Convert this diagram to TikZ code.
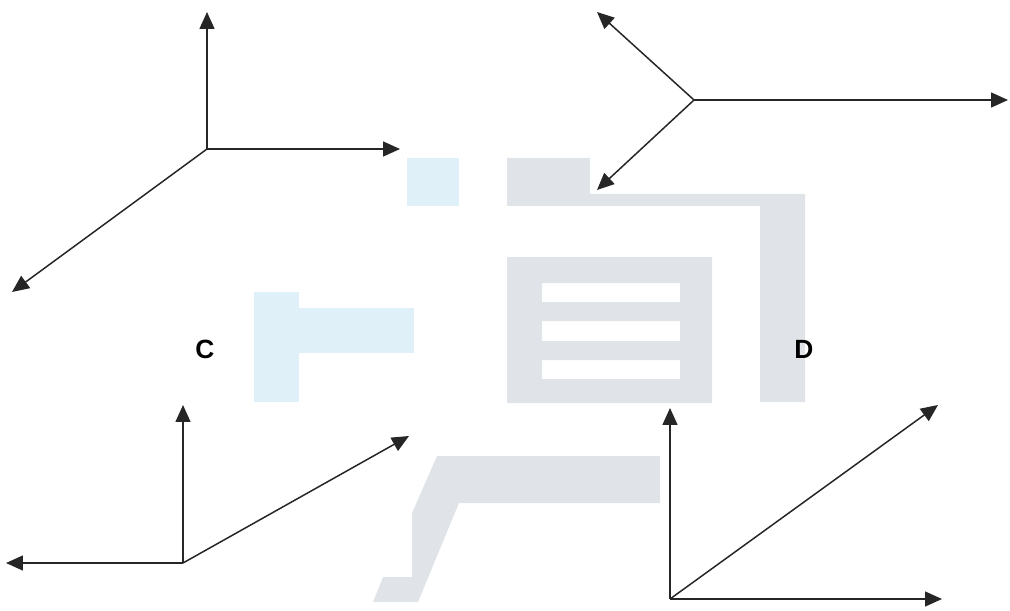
\documentclass[tikz,border=0pt]{standalone}
\usepackage{fontspec}
\setsansfont{Liberation Sans}
\usetikzlibrary{arrows.meta}
\definecolor{wmblue}{HTML}{E0F0F8}
\definecolor{wmgray}{HTML}{E0E4E8}
\tikzset{
  vec/.style={-{Triangle[length=0.34cm,width=0.3cm]},line width=0.85pt,draw=black!85},
  lbl/.style={font=\sffamily\bfseries\fontsize{15}{17}\selectfont,inner sep=0pt},
  mark/.style={fill=wmgray,draw=none}
}
\begin{document}
\begin{tikzpicture}[x=0.02cm,y=-0.02cm]
\useasboundingbox (0,0) rectangle (1010,611);
% watermark in the background
\fill[wmblue] (407,158) rectangle (459,206);
\fill[wmblue] (254,292) rectangle (299,402);
\fill[wmblue] (299,308) rectangle (414,353);
\fill[wmgray] (507,158) -- (590,158) -- (590,194) -- (805,194) -- (805,402) -- (760,402) -- (760,206) -- (507,206) -- cycle;
\fill[wmgray,even odd rule] (507,257) rectangle (712,403)
  (542,283) rectangle (680,302) (542,321) rectangle (680,341) (542,360) rectangle (680,379);
\fill[wmgray] (437,456) -- (660,456) -- (660,503) -- (459,503) -- (418,602) -- (373,602) -- (383,577) -- (412,577) -- (412,513) -- cycle;
% top left
\coordinate (Ao) at (207,149);
\coordinate (Au) at (207,12);
\coordinate (Ar) at (400,149);
\coordinate (Al) at (12,292);
\draw[vec] (Ao) -- (Au);
\draw[vec] (Ao) -- (Ar);
\draw[vec] (Ao) -- (Al);
% top right
\coordinate (Bo) at (694,100);
\coordinate (Br) at (1008,100);
\coordinate (Bu) at (597,12);
\coordinate (Bd) at (597,190);
\draw[vec] (Bo) -- (Br);
\draw[vec] (Bo) -- (Bu);
\draw[vec] (Bo) -- (Bd);
% labels
\node[lbl] (C) at (205,349) {C};
\node[lbl] (D) at (804,349) {D};
% bottom left
\coordinate (Co) at (183,563);
\coordinate (Cu) at (183,405);
\coordinate (Cl) at (6,563);
\coordinate (Cr) at (409,436);
\draw[vec] (Co) -- (Cu);
\draw[vec] (Co) -- (Cl);
\draw[vec] (Co) -- (Cr);
% bottom right
\coordinate (Do) at (670,599);
\coordinate (Du) at (670,408);
\coordinate (Dr) at (942,599);
\coordinate (Dd) at (938,405);
\draw[vec] (Do) -- (Du);
\draw[vec] (Do) -- (Dr);
\draw[vec] (Do) -- (Dd);
\end{tikzpicture}
\end{document}
